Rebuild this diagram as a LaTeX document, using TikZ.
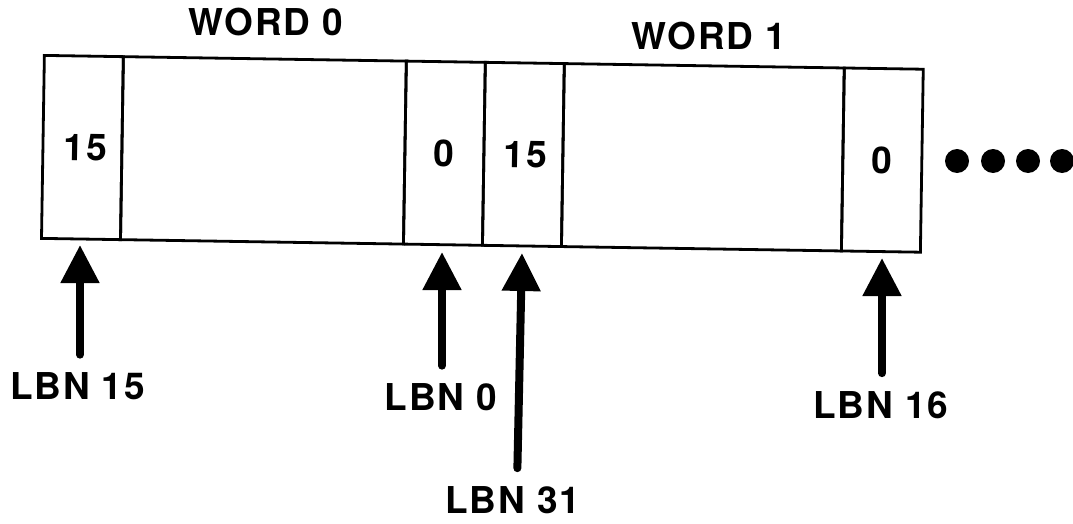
\documentclass[tikz,border=0pt]{standalone}
\usepackage{fontspec}
\setmainfont{TeX Gyre Heros}
\newfontfamily\lblfont[LetterSpace=5]{TeX Gyre Heros}
\usetikzlibrary{arrows.meta}
\begin{document}
\begin{tikzpicture}[x=1pt,y=-1pt,
  txt/.style={font=\lblfont\fontsize{37}{37}\selectfont\bfseries, inner sep=0pt},
  cell/.style={draw, line width=2.8pt, minimum height=183pt, inner sep=0pt, anchor=north west},
  ptr/.style={line width=8pt, line cap=round, -{Triangle[width=37pt,length=38pt]}, shorten <=18pt},
  dot/.style={fill=black, draw=none, circle, minimum size=24pt, inner sep=0pt}]
\useasboundingbox (0,0) rectangle (1073,524);

% word headings
\node[txt] (w0) at (266,22.5) {WORD 0};
\node[txt] (w1) at (709,36.5) {WORD 1};

% the two 16-bit words, slightly tilted as on the page
\begin{scope}[rotate around={-0.9:(43,54)}, transform shape]
  \node[cell, minimum width=79pt]  (c1) at (43,54)  {};
  \node[cell, minimum width=283pt] (c2) at (122,54) {};
  \node[cell, minimum width=79pt]  (c3) at (405,54) {};
  \node[cell, minimum width=79pt]  (c4) at (484,54) {};
  \node[cell, minimum width=280pt] (c5) at (563,54) {};
  \node[cell, minimum width=79pt]  (c6) at (843,54) {};
  \node[txt, xshift=3pt] (n1) at (c1.center) {15};
  \node[txt] (n2) at (c3.center) {0};
  \node[txt, xshift=2pt] (n3) at (c4.center) {15};
  \node[txt] (n4) at (c6.center) {0};
\end{scope}

% continuation dots
\node[dot] (d1) at (957,161) {};
\node[dot] (d2) at (993,161) {};
\node[dot] (d3) at (1028,161) {};
\node[dot] (d4) at (1062,161) {};

% block number labels and pointers
\node[txt] (l1) at (77.5,386.5) {LBN 15};
\node[txt] (l2) at (441,397.5)  {LBN 0};
\node[txt] (l3) at (513,500)    {LBN 31};
\node[txt] (l4) at (881,405)    {LBN 16};
\coordinate (t1) at (80,245);
\coordinate (t2) at (442,252);
\coordinate (t3) at (522,253);
\coordinate (s3) at (517,0);
\coordinate (t4) at (882,258);
\draw[ptr] (l1.north -| t1) -- (t1);
\draw[ptr] (l2.north -| t2) -- (t2);
\draw[ptr] (l3.north -| s3) -- (t3);
\draw[ptr] (l4.north -| t4) -- (t4);
\end{tikzpicture}
\end{document}
